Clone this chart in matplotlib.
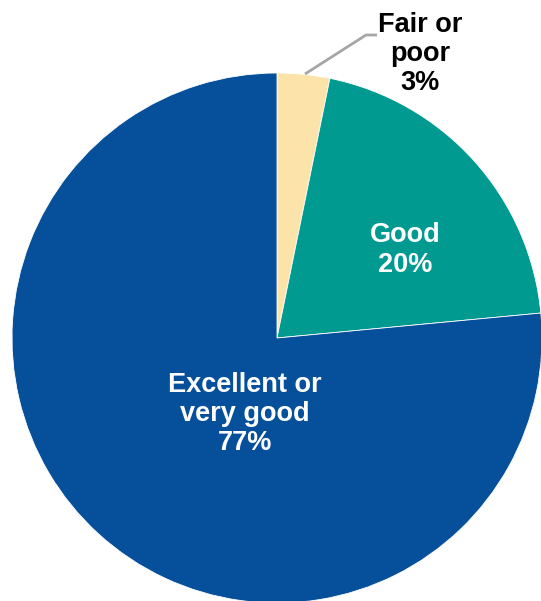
import matplotlib
matplotlib.use("Agg")
import matplotlib.pyplot as plt

# Self-rated health shares
labels = ["Fair or\npoor\n3%", "Good\n20%", "Excellent or\nvery good\n77%"]
shares = [3.2, 20.3, 76.5]
colors = ["#FCE3AA", "#009A90", "#064F9B"]

W, H = 541, 601
fig = plt.figure(figsize=(W / 100, H / 100), dpi=100)
ax = fig.add_axes([0, 0, 1, 1])

cx, cy, r = 277, H - 338, 265
ax.pie(shares, colors=colors, startangle=90, counterclock=False,
       center=(cx, cy), radius=r, frame=True,
       wedgeprops=dict(edgecolor="white", linewidth=0.6))
ax.set_xlim(0, W)
ax.set_ylim(0, H)
ax.set_aspect("equal")
ax.axis("off")

font = dict(family=["Liberation Sans", "DejaVu Sans"], fontsize=19.5,
            fontweight="bold", ha="center", va="center", linespacing=1.17)

# leader line for the small slice
ax.plot([305, 366, 377], [H - 74, H - 35, H - 35], color="#A6A6A6", lw=2,
        solid_capstyle="butt")
ax.text(420, H - 54, labels[0], color="black", **font)
ax.text(405, H - 250, labels[1], color="white", **font)
ax.text(245, H - 414, labels[2], color="white", **font)

fig.savefig("out.png", dpi=100)
